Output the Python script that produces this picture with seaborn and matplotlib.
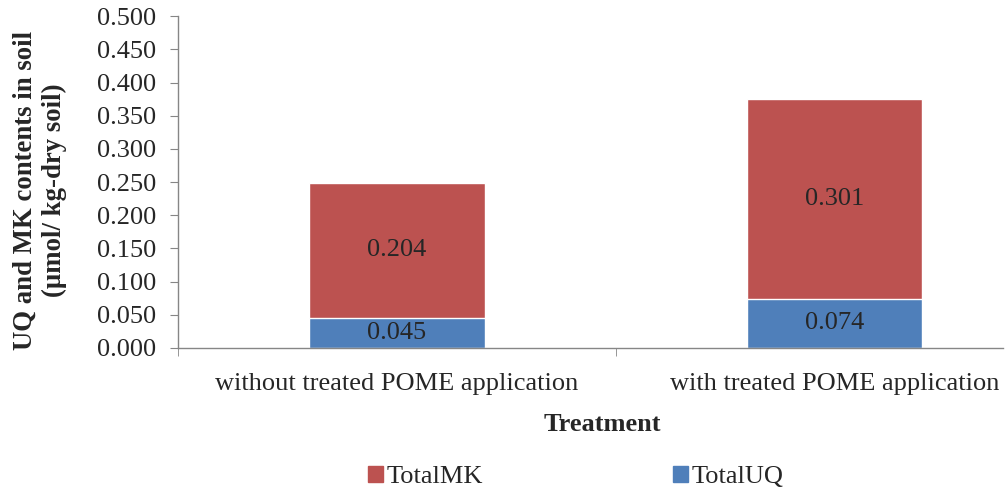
import matplotlib
matplotlib.use("Agg")
import matplotlib.pyplot as plt
import matplotlib.patches as mpatches
import pandas as pd
import seaborn as sns

categories = ["without treated POME application", "with treated POME application"]
total_uq = [0.045, 0.074]
total_mk = [0.204, 0.301]

red = "#BC5250"
blue = "#4F7FBA"
grey = "#868686"

sns.set_style("white")
plt.rcParams["font.family"] = ["Liberation Serif", "DejaVu Serif"]

df = pd.DataFrame({"Treatment": categories, "TotalUQ": total_uq, "TotalMK": total_mk})
df["Total"] = df["TotalUQ"] + df["TotalMK"]

fig = plt.figure(figsize=(10.06, 4.9), dpi=100)
ax = fig.add_axes([0.177, 0.29, 0.82, 0.677])

sns.barplot(data=df, x="Treatment", y="Total", color=red, width=0.4, saturation=1, ax=ax)
sns.barplot(data=df, x="Treatment", y="TotalUQ", color=blue, width=0.4, saturation=1, ax=ax)

for i, row in df.iterrows():
    ax.text(i, row["TotalUQ"] / 2, f"{row['TotalUQ']:.3f}", ha="center", va="center", fontsize=19)
    ax.text(i, row["TotalUQ"] + row["TotalMK"] / 2, f"{row['TotalMK']:.3f}", ha="center", va="center", fontsize=19)

ax.set_yticks([i * 0.05 for i in range(11)])
ax.set_yticklabels([f"{i * 0.05:.3f}" for i in range(11)], fontsize=19)
ax.set_xticks([0, 1])
ax.set_xticklabels(categories, fontsize=19)
ax.set_xticks([-0.5, 0.5, 1.5], minor=True)
ax.tick_params(axis="x", length=0, pad=18)
ax.tick_params(axis="x", which="minor", length=6, color=grey, direction="out", bottom=True)
ax.tick_params(axis="y", length=6, color=grey, direction="out", left=True, pad=10)
ax.set_ylim(0, 0.5)
ax.set_xlim(-0.5, 1.384)

sns.despine(ax=ax)
for s in ["left", "bottom"]:
    ax.spines[s].set_color(grey)
    ax.spines[s].set_linewidth(1)

ax.set_xlabel("Treatment", fontsize=19, fontweight="bold")
ax.xaxis.set_label_coords(0.514, -0.195)
ax.set_ylabel("UQ and MK contents in soil\n(µmol/ kg-dry soil)", fontsize=19.3, fontweight="bold")
ax.yaxis.set_label_coords(-0.135, 0.475)

handles = [mpatches.Patch(color=red, label="TotalMK"), mpatches.Patch(color=blue, label="TotalUQ")]
fig.legend(handles=handles, loc="center", bbox_to_anchor=(0.5725, 0.027), ncol=2, frameon=False,
           fontsize=19, handlelength=0.55, handleheight=0.55, handletextpad=0.15, columnspacing=7.2)

fig.savefig("out.png", dpi=100)
